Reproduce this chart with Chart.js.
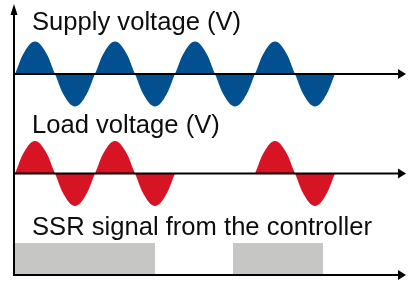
<!DOCTYPE html>
<html>
<head>
<meta charset="utf-8">
<script src="https://cdn.jsdelivr.net/npm/chart.js@4/dist/chart.umd.min.js"></script>
<style>
  html, body { margin: 0; padding: 0; background: #ffffff; }
  #wrap { width: 410px; height: 282px; }
</style>
</head>
<body>
<div id="wrap"><canvas id="c" width="410" height="282"></canvas></div>
<script>
// ---- data (time in mains cycles, read every 1/8 cycle) ----
const cyclePoints = [
  0, 0.125, 0.25, 0.375, 0.5, 0.625, 0.75, 0.875,
  1, 1.125, 1.25, 1.375, 1.5, 1.625, 1.75, 1.875,
  2, 2.125, 2.25, 2.375, 2.5, 2.625, 2.75, 2.875,
  3, 3.125, 3.25, 3.375, 3.5, 3.625, 3.75, 3.875, 4
];
const supplyVoltage = [
  0, 0.71, 1, 0.71, 0, -0.71, -1, -0.71,
  0, 0.71, 1, 0.71, 0, -0.71, -1, -0.71,
  0, 0.71, 1, 0.71, 0, -0.71, -1, -0.71,
  0, 0.71, 1, 0.71, 0, -0.71, -1, -0.71, 0
];
const loadVoltage = [
  0, 0.71, 1, 0.71, 0, -0.71, -1, -0.71,
  0, 0.71, 1, 0.71, 0, -0.71, -1, -0.71,
  0, null, null, null, null, null, null, null,
  0, 0.71, 1, 0.71, 0, -0.71, -1, -0.71, 0
];
const ssrTimes  = [0, 1.75, 2.725, 3.85];
const ssrSignal = [1, 0, 1, 0];
const rowTitles = ['Supply voltage (V)', 'Load voltage (V)', 'SSR signal from the controller'];

// ---- layout helpers (pixel placement of each band) ----
const H = 282;
function band(zeroPx, unitPx) {
  return { min: -(H - zeroPx) / unitPx, max: zeroPx / unitPx };
}
const pts = (xs, ys) => xs.map((x, i) => ({ x: x, y: ys[i] }));

const axesPlugin = {
  id: 'axesPlugin',
  afterDatasetsDraw(chart) {
    const ctx = chart.ctx;
    const a = chart.chartArea;
    const left = a.left;
    const tipX = a.right - 4;
    ctx.save();
    ctx.strokeStyle = '#000';
    ctx.fillStyle = '#000';
    ctx.lineWidth = 2;
    const yBottom = chart.scales.ySSR.getPixelForValue(0);
    // vertical axis
    ctx.beginPath();
    ctx.moveTo(left, yBottom + 1);
    ctx.lineTo(left, 12);
    ctx.stroke();
    ctx.beginPath();
    ctx.moveTo(left, 4);
    ctx.lineTo(left - 3.5, 15);
    ctx.lineTo(left + 3.5, 15);
    ctx.closePath();
    ctx.fill();
    // horizontal axes
    ['ySupply', 'yLoad', 'ySSR'].forEach(id => {
      const y = chart.scales[id].getPixelForValue(0);
      ctx.beginPath();
      ctx.moveTo(left - 1, y);
      ctx.lineTo(tipX - 6, y);
      ctx.stroke();
      ctx.beginPath();
      ctx.moveTo(tipX, y);
      ctx.lineTo(tipX - 8, y - 5);
      ctx.lineTo(tipX - 8, y + 5);
      ctx.closePath();
      ctx.fill();
    });
    // titles
    ctx.font = "25.6px 'Liberation Sans', Arial, sans-serif";
    ctx.fillStyle = '#0d0d0d';
    ctx.textBaseline = 'alphabetic';
    ctx.textAlign = 'left';
    ctx.fillText(rowTitles[0], 32, 30);
    ctx.fillText(rowTitles[1], 32, 133);
    ctx.fillText(rowTitles[2], 32, 235);
    ctx.restore();
  }
};

new Chart(document.getElementById('c'), {
  type: 'line',
  data: {
    datasets: [
      {
        label: rowTitles[0],
        data: pts(cyclePoints, supplyVoltage),
        yAxisID: 'ySupply',
        backgroundColor: '#02508f',
        borderWidth: 0,
        pointRadius: 0,
        fill: 'origin',
        tension: 0.4
      },
      {
        label: rowTitles[1],
        data: pts(cyclePoints, loadVoltage),
        yAxisID: 'yLoad',
        backgroundColor: '#d71424',
        borderWidth: 0,
        pointRadius: 0,
        fill: 'origin',
        spanGaps: false,
        tension: 0.4
      },
      {
        label: rowTitles[2],
        data: pts(ssrTimes, ssrSignal),
        yAxisID: 'ySSR',
        backgroundColor: '#c6c6c5',
        borderWidth: 0,
        pointRadius: 0,
        fill: 'origin',
        stepped: 'before'
      }
    ]
  },
  options: {
    responsive: false,
    animation: false,
    events: [],
    layout: { padding: { left: 14, right: 0, top: 0, bottom: 0 } },
    plugins: { legend: { display: false }, tooltip: { enabled: false }, title: { display: false } },
    scales: {
      x: { type: 'linear', display: false, min: -1 / 80, max: 395 / 80 },
      ySupply: Object.assign({ type: 'linear', display: false }, band(74, 32.5)),
      yLoad: Object.assign({ type: 'linear', display: false }, band(173.5, 32.5)),
      ySSR: Object.assign({ type: 'linear', display: false }, band(275, 32))
    }
  },
  plugins: [axesPlugin]
});
</script>
</body>
</html>
